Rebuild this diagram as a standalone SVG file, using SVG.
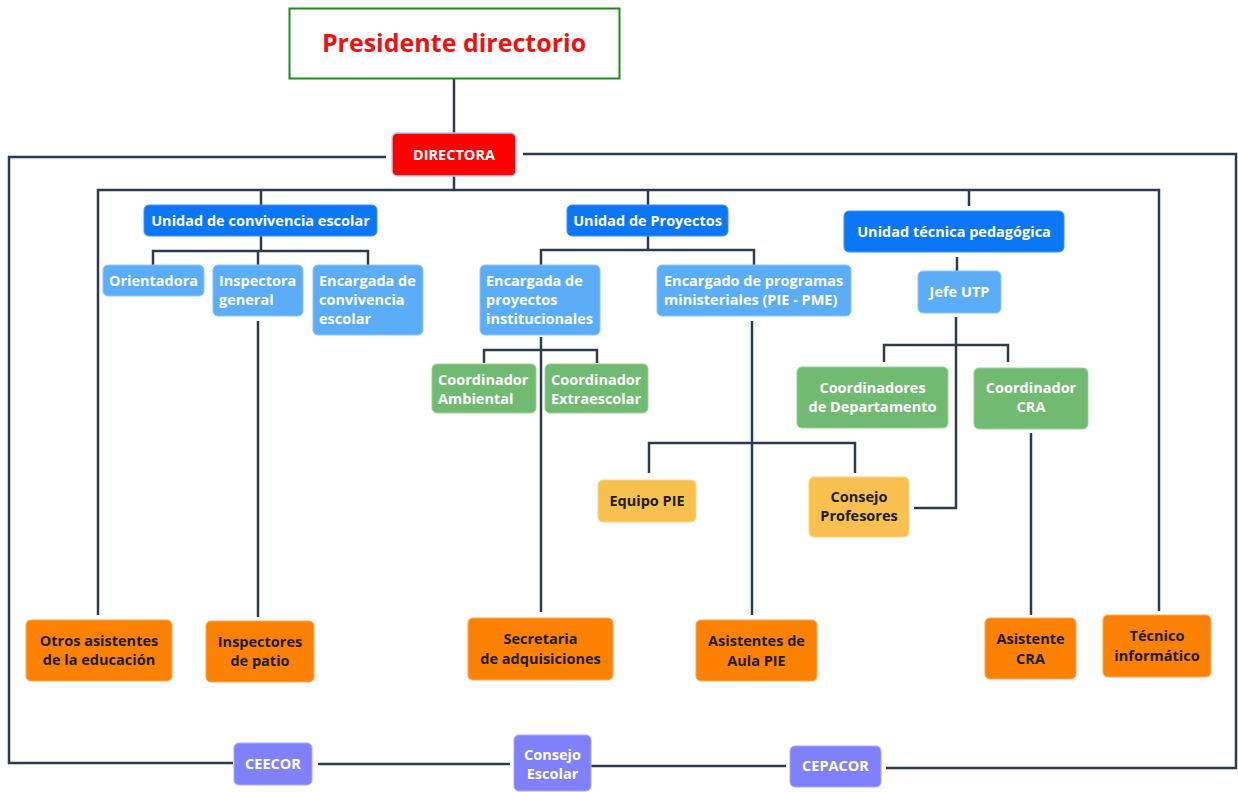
<svg xmlns="http://www.w3.org/2000/svg" width="1238" height="792" viewBox="0 0 1238 792">
<style>
  .ln{fill:none;stroke:#2E3A4D;stroke-width:2.5;stroke-linejoin:miter}
  text{font-family:"Open Sans","Noto Sans","Liberation Sans",sans-serif;font-weight:bold;font-size:14.5px}
  .w{fill:#FFFFFF}
  .d{fill:#1C1C1C}
  .c{text-anchor:middle}
  .u{fill:#0B77F6;stroke:#3E93F8;stroke-width:1}
  .lb{fill:#5CADF8;stroke:#8CC5FA;stroke-width:1}
  .g{fill:#71BA72;stroke:#9AD19B;stroke-width:1}
  .y{fill:#F8C04E;stroke:#FBD588;stroke-width:1}
  .o{fill:#FD8204;stroke:#FFA651;stroke-width:1}
  .p{fill:#8080FA;stroke:#A9A9FC;stroke-width:1}
</style>
<rect width="1238" height="792" fill="#FFFFFF"/>
<g id="connectors">
  <path class="ln" d="M454 79 V133"/>
  <path class="ln" d="M386 157 H9 V763 H233"/>
  <path class="ln" d="M318 764 H510"/>
  <path class="ln" d="M591 766 H786"/>
  <path class="ln" d="M886 768 H1236 V154 H523"/>
  <path class="ln" d="M454 176 V190"/>
  <path class="ln" d="M98 615 V190 H1159 V611"/>
  <path class="ln" d="M261 190 V205"/>
  <path class="ln" d="M648 190 V205"/>
  <path class="ln" d="M969 190 V206"/>
  <path class="ln" d="M261 236 V251"/>
  <path class="ln" d="M153 265 V251 H368 V265"/>
  <path class="ln" d="M258 251 V265"/>
  <path class="ln" d="M258 321 V617"/>
  <path class="ln" d="M648 236 V250"/>
  <path class="ln" d="M541 265 V250 H754 V265"/>
  <path class="ln" d="M541 337 V612"/>
  <path class="ln" d="M484 363 V350 H597 V363"/>
  <path class="ln" d="M752 321 V615"/>
  <path class="ln" d="M649 473 V443 H855 V473"/>
  <path class="ln" d="M957 257 V271"/>
  <path class="ln" d="M956 317 V508 H914"/>
  <path class="ln" d="M884 362 V345 H1008 V362"/>
  <path class="ln" d="M1031 433 V615"/>
</g>
<g id="presidente">
  <rect x="289.5" y="8.5" width="330" height="70" fill="#FFFFFF" stroke="#1E8A1E" stroke-width="2"/>
  <text x="454" y="52" class="c" style="font-size:25px" fill="#F01010">Presidente directorio</text>
</g>
<g id="directora">
  <rect x="392" y="133" width="124" height="43" rx="5" fill="#FF0000" stroke="#A8D4F5" stroke-width="1.5"/>
  <text x="454" y="160" class="c w">DIRECTORA</text>
</g>
<g id="unidad-convivencia">
  <rect class="u" x="144" y="205" width="233" height="31" rx="5"/>
  <text x="260.5" y="226" class="c w">Unidad de convivencia escolar</text>
</g>
<g id="unidad-proyectos">
  <rect class="u" x="567" y="205" width="161" height="31" rx="5"/>
  <text x="647.5" y="226" class="c w">Unidad de Proyectos</text>
</g>
<g id="unidad-tecnica">
  <rect class="u" x="844" y="211" width="220" height="41" rx="5"/>
  <text x="954" y="237" class="c w">Unidad técnica pedagógica</text>
</g>
<g id="orientadora">
  <rect class="lb" x="103" y="265" width="101" height="31" rx="5"/>
  <text x="153.5" y="286" class="c w">Orientadora</text>
</g>
<g id="inspectora-general">
  <rect class="lb" x="213" y="265" width="90" height="51" rx="5"/>
  <text x="219" y="286" class="w">Inspectora</text>
  <text x="219" y="305" class="w">general</text>
</g>
<g id="encargada-convivencia">
  <rect class="lb" x="313" y="265" width="110" height="70" rx="5"/>
  <text x="319" y="286" class="w">Encargada de</text>
  <text x="319" y="305" class="w">convivencia</text>
  <text x="319" y="324" class="w">escolar</text>
</g>
<g id="encargada-proyectos">
  <rect class="lb" x="480" y="265" width="120" height="70" rx="5"/>
  <text x="486" y="286" class="w">Encargada de</text>
  <text x="486" y="305" class="w">proyectos</text>
  <text x="486" y="324" class="w">institucionales</text>
</g>
<g id="encargado-programas">
  <rect class="lb" x="657" y="265" width="194" height="51" rx="5"/>
  <text x="664" y="286" class="w">Encargado de programas</text>
  <text x="664" y="305" class="w">ministeriales (PIE - PME)</text>
</g>
<g id="jefe-utp">
  <rect class="lb" x="918" y="271" width="83" height="42" rx="5"/>
  <text x="959.5" y="297" class="c w">Jefe UTP</text>
</g>
<g id="coord-ambiental">
  <rect class="g" x="432" y="364" width="104" height="49" rx="5"/>
  <text x="438" y="385" class="w">Coordinador</text>
  <text x="438" y="404" class="w">Ambiental</text>
</g>
<g id="coord-extraescolar">
  <rect class="g" x="545" y="364" width="103" height="49" rx="5"/>
  <text x="551" y="385" class="w">Coordinador</text>
  <text x="551" y="404" class="w">Extraescolar</text>
</g>
<g id="coord-departamento">
  <rect class="g" x="797" y="367" width="151" height="61" rx="5"/>
  <text x="872.5" y="393" class="c w">Coordinadores</text>
  <text x="872.5" y="412" class="c w">de Departamento</text>
</g>
<g id="coord-cra">
  <rect class="g" x="974" y="368" width="114" height="61" rx="5"/>
  <text x="1031" y="393" class="c w">Coordinador</text>
  <text x="1031" y="412" class="c w">CRA</text>
</g>
<g id="equipo-pie">
  <rect class="y" x="598" y="480" width="98" height="42" rx="5"/>
  <text x="647" y="506" class="c d">Equipo PIE</text>
</g>
<g id="consejo-profesores">
  <rect class="y" x="809" y="477" width="100" height="60" rx="5"/>
  <text x="859" y="502" class="c d">Consejo</text>
  <text x="859" y="521" class="c d">Profesores</text>
</g>
<g id="otros-asistentes">
  <rect class="o" x="26" y="620" width="146" height="61" rx="5"/>
  <text x="99" y="646" class="c d">Otros asistentes</text>
  <text x="99" y="665" class="c d">de la educación</text>
</g>
<g id="inspectores-patio">
  <rect class="o" x="206" y="621" width="108" height="61" rx="5"/>
  <text x="260" y="647" class="c d">Inspectores</text>
  <text x="260" y="666" class="c d">de patio</text>
</g>
<g id="secretaria">
  <rect class="o" x="468" y="618" width="145" height="62" rx="5"/>
  <text x="540.5" y="644" class="c d">Secretaria</text>
  <text x="540.5" y="664" class="c d">de adquisiciones</text>
</g>
<g id="asistentes-aula">
  <rect class="o" x="696" y="620" width="121" height="61" rx="5"/>
  <text x="756.5" y="646" class="c d">Asistentes de</text>
  <text x="756.5" y="666" class="c d">Aula PIE</text>
</g>
<g id="asistente-cra">
  <rect class="o" x="985" y="618" width="91" height="61" rx="5"/>
  <text x="1030.5" y="644" class="c d">Asistente</text>
  <text x="1030.5" y="664" class="c d">CRA</text>
</g>
<g id="tecnico">
  <rect class="o" x="1103" y="615" width="108" height="62" rx="5"/>
  <text x="1157" y="641" class="c d">Técnico</text>
  <text x="1157" y="661" class="c d">informático</text>
</g>
<g id="ceecor">
  <rect class="p" x="234" y="743" width="78" height="42" rx="5"/>
  <text x="273" y="769" class="c w">CEECOR</text>
</g>
<g id="consejo-escolar">
  <rect class="p" x="514" y="735" width="77" height="56" rx="5"/>
  <text x="552.5" y="760" class="c w">Consejo</text>
  <text x="552.5" y="779" class="c w">Escolar</text>
</g>
<g id="cepacor">
  <rect class="p" x="790" y="746" width="91" height="41" rx="5"/>
  <text x="835.5" y="771" class="c w">CEPACOR</text>
</g>
</svg>
